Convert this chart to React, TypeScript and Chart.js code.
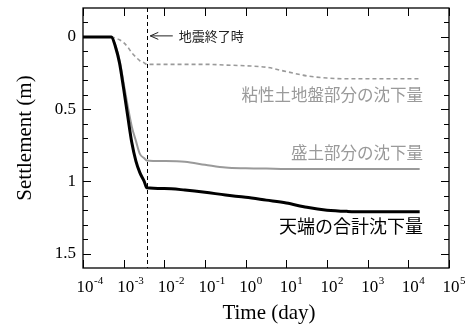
import React, { useEffect, useRef } from "react";
import { Chart, registerables } from "chart.js";

Chart.register(...registerables);

// ---- data ----
const timeDays = [1e-4, 5e-4, 6.3e-4, 7.9e-4, 1e-3, 1.26e-3, 1.58e-3, 2e-3, 2.5e-3, 3.2e-3, 3.7e-3, 1e-2, 3.2e-2, 0.1, 0.32, 1, 3.2, 10, 32, 100, 320, 1000, 19000];
const totalSettlement = [0, 0, 0.07, 0.18, 0.36, 0.55, 0.73, 0.86, 0.94, 1.0, 1.045, 1.05, 1.06, 1.075, 1.095, 1.11, 1.13, 1.15, 1.18, 1.2, 1.208, 1.21, 1.21];
const embankmentSettlement = [0, 0, 0.06, 0.16, 0.32, 0.48, 0.62, 0.72, 0.81, 0.84, 0.855, 0.86, 0.865, 0.885, 0.905, 0.91, 0.912, 0.915, 0.915, 0.915, 0.915, 0.915, 0.915];
const claySettlement = [0, 0, 0.01, 0.02, 0.04, 0.07, 0.11, 0.14, 0.165, 0.18, 0.19, 0.19, 0.19, 0.19, 0.195, 0.2, 0.21, 0.24, 0.27, 0.285, 0.29, 0.29, 0.29];

const seriesNames = ["天端の合計沈下量", "盛土部分の沈下量", "粘性土地盤部分の沈下量"];
const seriesLabelY = [1.307, 0.805, 0.4];

const quakeEndDay = 3.7e-3;
const quakeEndText = "地震終了時";

const xTickExponents = [-4, -3, -2, -1, 0, 1, 2, 3, 4, 5];
const yTickLabels = [0, 0.5, 1, 1.5];
const yMinorTicks = [-0.1, 0.1, 0.2, 0.3, 0.4, 0.6, 0.7, 0.8, 0.9, 1.1, 1.2, 1.3, 1.4];

const xTitle = "Time (day)";
const yTitle = "Settlement (m)";

const GRAY = "#9a9a9a";
const SERIF = "'Liberation Serif', 'Times New Roman', serif";
const CJK = "'Noto Sans CJK JP', sans-serif";

const decorations = {
  id: "decorations",
  beforeDatasetsDraw(chart: any) {
    const { ctx, chartArea } = chart;
    const xs = chart.scales.x;
    const px = Math.round(xs.getPixelForValue(quakeEndDay)) + 0.5;
    ctx.save();
    ctx.strokeStyle = "#000";
    ctx.lineWidth = 1;
    ctx.setLineDash([4, 3]);
    ctx.beginPath();
    ctx.moveTo(px, chartArea.top);
    ctx.lineTo(px, chartArea.bottom);
    ctx.stroke();
    ctx.restore();
  },
  afterDatasetsDraw(chart: any) {
    const { ctx, chartArea } = chart;
    const xs = chart.scales.x;
    const ys = chart.scales.y;
    const { left, right, top, bottom } = chartArea;
    ctx.save();

    // frame
    ctx.strokeStyle = "#000";
    ctx.lineWidth = 1.3;
    ctx.strokeRect(left, top, right - left, bottom - top);

    // ticks (inward)
    ctx.lineWidth = 1;
    ctx.beginPath();
    for (const e of xTickExponents) {
      const p = Math.round(xs.getPixelForValue(Math.pow(10, e))) + 0.5;
      ctx.moveTo(p, bottom);
      ctx.lineTo(p, bottom - 8);
      ctx.moveTo(p, top);
      ctx.lineTo(p, top + 8);
    }
    for (const v of yTickLabels) {
      const p = Math.round(ys.getPixelForValue(v)) + 0.5;
      ctx.moveTo(left, p);
      ctx.lineTo(left + 8, p);
      ctx.moveTo(right, p);
      ctx.lineTo(right - 8, p);
    }
    for (const v of yMinorTicks) {
      const p = Math.round(ys.getPixelForValue(v)) + 0.5;
      ctx.moveTo(left, p);
      ctx.lineTo(left + 5, p);
      ctx.moveTo(right, p);
      ctx.lineTo(right - 5, p);
    }
    ctx.stroke();

    // y tick labels
    ctx.fillStyle = "#000";
    ctx.font = `17px ${SERIF}`;
    ctx.textAlign = "right";
    ctx.textBaseline = "middle";
    for (const v of yTickLabels) {
      ctx.fillText(String(v), left - 7, ys.getPixelForValue(v));
    }

    // x tick labels with superscript exponents
    ctx.textAlign = "left";
    ctx.textBaseline = "alphabetic";
    for (const e of xTickExponents) {
      const p = xs.getPixelForValue(Math.pow(10, e));
      ctx.font = `17px ${SERIF}`;
      const w = ctx.measureText("10").width;
      const bx = p + 2 - w / 2;
      ctx.fillText("10", bx, bottom + 23.5);
      ctx.font = `11px ${SERIF}`;
      ctx.fillText(String(e), bx + w + 0.5, bottom + 16);
    }

    // axis titles
    ctx.font = `21px ${SERIF}`;
    ctx.textAlign = "center";
    ctx.textBaseline = "middle";
    ctx.fillText(xTitle, (left + right) / 2 + 3, bottom + 45);
    ctx.save();
    ctx.translate(25, (top + bottom) / 2 + 0);
    ctx.rotate(-Math.PI / 2);
    ctx.fillText(yTitle, 0, 0);
    ctx.restore();

    // earthquake-end annotation
    const qx = xs.getPixelForValue(quakeEndDay);
    const qy = ys.getPixelForValue(0) - 1;
    ctx.strokeStyle = "#222";
    ctx.lineWidth = 1;
    ctx.beginPath();
    ctx.moveTo(qx + 3.5, qy);
    ctx.lineTo(qx + 26, qy);
    ctx.moveTo(qx + 11.5, qy - 3.5);
    ctx.lineTo(qx + 3.5, qy);
    ctx.lineTo(qx + 11.5, qy + 3.5);
    ctx.stroke();
    ctx.fillStyle = "#222";
    ctx.font = `13px ${CJK}`;
    ctx.textAlign = "left";
    ctx.fillText(quakeEndText, qx + 32, qy + 0.5);

    // series labels
    ctx.textAlign = "right";
    const colors = ["#000", GRAY, GRAY];
    const sizes = [18, 16.5, 16.5];
    seriesNames.forEach((name, i) => {
      ctx.fillStyle = colors[i];
      ctx.font = `${sizes[i]}px ${CJK}`;
      ctx.fillText(name, right - 26, ys.getPixelForValue(seriesLabelY[i]));
    });

    ctx.restore();
  },
};

export default function App() {
  const canvasRef = useRef<HTMLCanvasElement | null>(null);

  useEffect(() => {
    const canvas = canvasRef.current;
    if (!canvas) return;
    const mk = (ys: number[]) => timeDays.map((t, i) => ({ x: t, y: ys[i] }));
    const chart = new Chart(canvas, {
      type: "line",
      data: {
        datasets: [
          {
            label: seriesNames[0],
            data: mk(totalSettlement),
            borderColor: "#000",
            borderWidth: 3,
            pointRadius: 0,
            cubicInterpolationMode: "monotone",
          },
          {
            label: seriesNames[1],
            data: mk(embankmentSettlement),
            borderColor: GRAY,
            borderWidth: 2,
            pointRadius: 0,
            cubicInterpolationMode: "monotone",
          },
          {
            label: seriesNames[2],
            data: mk(claySettlement),
            borderColor: GRAY,
            borderWidth: 1.6,
            borderDash: [4, 3],
            pointRadius: 0,
            cubicInterpolationMode: "monotone",
          },
        ],
      },
      options: {
        animation: false,
        responsive: true,
        maintainAspectRatio: false,
        layout: { padding: { left: 83, right: 26, top: 8, bottom: 61 } },
        plugins: { legend: { display: false }, tooltip: { enabled: false } },
        scales: {
          x: { type: "logarithmic", min: 1e-4, max: 1e5, display: false },
          y: { type: "linear", min: -0.2, max: 1.6, reverse: true, display: false },
        },
      },
      plugins: [decorations],
    } as any);
    return () => chart.destroy();
  }, []);

  return (
    <div style={{ position: "absolute", left: 0, top: 0, width: 475, height: 329, background: "#fff" }}>
      <canvas ref={canvasRef} />
    </div>
  );
}
